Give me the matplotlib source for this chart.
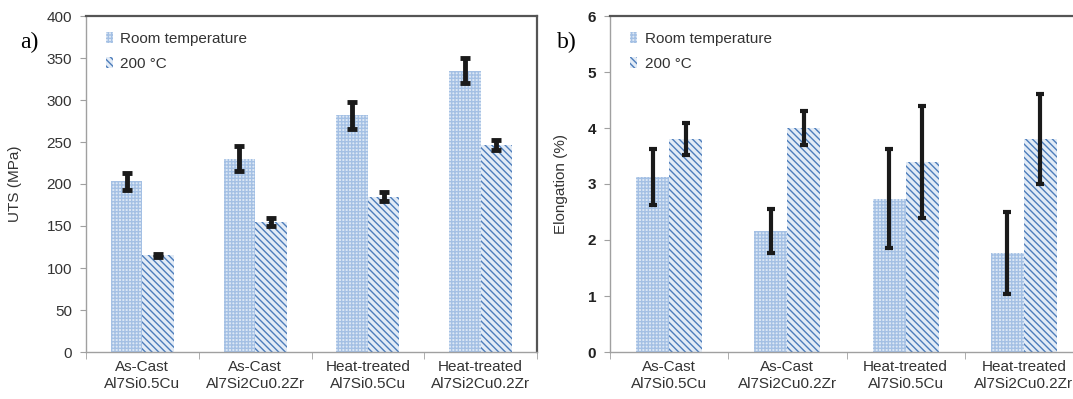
import numpy as np
import matplotlib
matplotlib.use("Agg")
import matplotlib.pyplot as plt

plt.rcParams["font.family"] = ["Liberation Sans", "DejaVu Sans"]
plt.rcParams["hatch.linewidth"] = 1.0

# data
categories = ["As-Cast\nAl7Si0.5Cu", "As-Cast\nAl7Si2Cu0.2Zr",
              "Heat-treated\nAl7Si0.5Cu", "Heat-treated\nAl7Si2Cu0.2Zr"]
series = ["Room temperature", "200 \u00b0C"]

uts_room = [203, 230, 282, 335]
uts_room_err = [10, 15, 16, 15]
uts_200 = [115, 155, 185, 246]
uts_200_err = [2, 5, 5, 6]

elong_room = [3.12, 2.16, 2.74, 1.77]
elong_room_err = [0.5, 0.39, 0.88, 0.73]
elong_200 = [3.80, 4.00, 3.40, 3.80]
elong_200_err = [0.29, 0.30, 1.0, 0.8]

uts_ticks = [0, 50, 100, 150, 200, 250, 300, 350, 400]
elong_ticks = [0, 1, 2, 3, 4, 5, 6]


def draw_panel(ax, room, room_err, hot, hot_err, yticks, ylabel, bold_ticks,
               elw, cap, lpad):
    x = np.arange(len(categories))
    w = 0.28
    b1 = ax.bar(x - w / 2, room, w, color="#dde8f5", edgecolor="#a4c0e4",
                linewidth=0, hatch="+++++", label=series[0])
    b2 = ax.bar(x + w / 2, hot, w, color="#e2ebf6", edgecolor="#4d7dbb",
                linewidth=0, hatch="\\\\\\\\\\", label=series[1])
    ax.errorbar(x - w / 2, room, yerr=room_err, fmt="none", ecolor="#1a1a1a",
                elinewidth=elw, capsize=cap, capthick=elw)
    ax.errorbar(x + w / 2, hot, yerr=hot_err, fmt="none", ecolor="#1a1a1a",
                elinewidth=elw, capsize=cap, capthick=elw)

    ax.set_xlim(-0.5, len(categories) - 0.5)
    ax.set_ylim(yticks[0], yticks[-1])
    ax.set_yticks(yticks)
    ax.set_xticks(x)
    ax.set_xticklabels(categories, fontsize=11, color="#333333")
    ax.set_xticks(np.arange(len(categories) + 1) - 0.5, minor=True)
    ax.tick_params(axis="x", which="major", length=0, pad=6)
    ax.tick_params(axis="x", which="minor", length=5, color="#a0a0a0",
                   direction="out")
    ax.tick_params(axis="y", length=4, color="#a0a0a0", direction="out",
                   labelsize=11, pad=6)
    for lab in ax.get_yticklabels():
        if bold_ticks:
            lab.set_fontweight("bold")
            lab.set_color("#222222")
        else:
            lab.set_color("#333333")
    ax.set_ylabel(ylabel, fontsize=11, color="#333333", labelpad=lpad)

    for side in ["top", "right"]:
        ax.spines[side].set_color("#555555")
        ax.spines[side].set_linewidth(1.6)
    for side in ["left", "bottom"]:
        ax.spines[side].set_color("#a0a0a0")
        ax.spines[side].set_linewidth(1.0)

    leg = ax.legend(handles=[b1, b2], loc="upper left",
                    bbox_to_anchor=(0.02, 0.985), frameon=False, fontsize=11,
                    handlelength=0.45, handleheight=0.7, handletextpad=0.5,
                    labelspacing=0.75, borderaxespad=0.3)
    for t in leg.get_texts():
        t.set_color("#333333")


def main():
    fig = plt.figure(figsize=(10.73, 3.99), dpi=100)

    ax1 = fig.add_axes([86 / 1073, 1 - 352 / 399, (537 - 86) / 1073, 336 / 399])
    ax2 = fig.add_axes([610 / 1073, 1 - 352 / 399, (1083 - 610) / 1073, 336 / 399])

    draw_panel(ax1, uts_room, uts_room_err, uts_200, uts_200_err,
               uts_ticks, "UTS (MPa)", False, 3.5, 3.5, 18)
    draw_panel(ax2, elong_room, elong_room_err, elong_200, elong_200_err,
               elong_ticks, "Elongation (%)", True, 3.0, 3.0, 14)

    fig.text(20 / 1073, 1 - 42 / 399, "a)", family="Liberation Serif",
             fontsize=17, va="center", ha="left")
    fig.text(557 / 1073, 1 - 42 / 399, "b)", family="Liberation Serif",
             fontsize=17, va="center", ha="left")

    fig.savefig("out.png", dpi=100)
    plt.close(fig)


if __name__ == "__main__":
    main()
